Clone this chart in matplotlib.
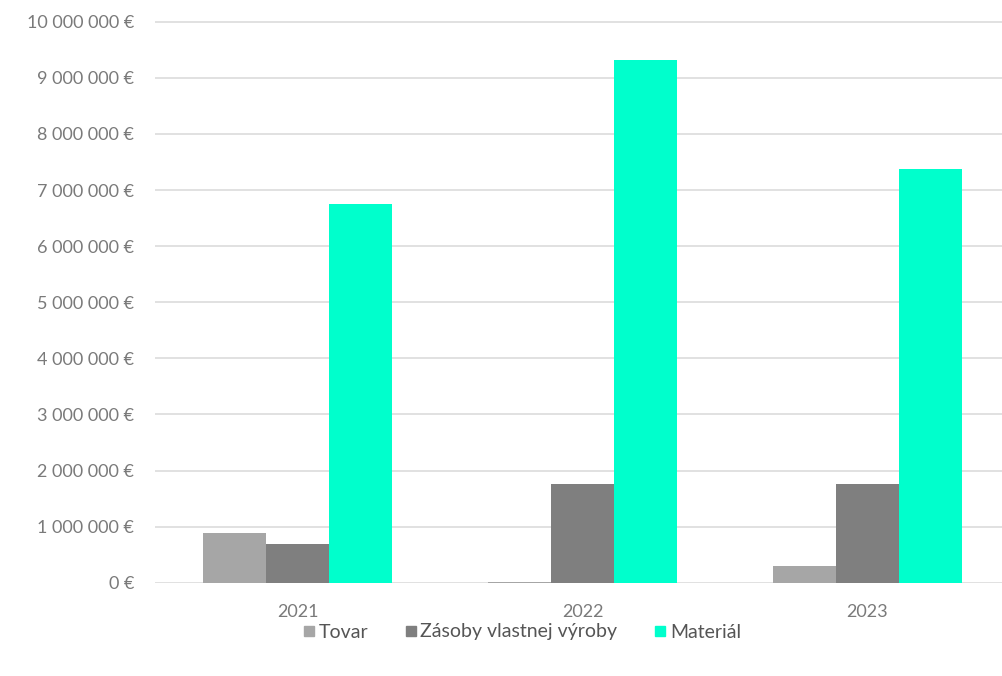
import matplotlib
matplotlib.use("Agg")
import matplotlib.pyplot as plt
from matplotlib.lines import Line2D
from matplotlib.ticker import FuncFormatter, MultipleLocator
import numpy as np

years = ["2021", "2022", "2023"]
series_names = ["Tovar", "Zásoby vlastnej výroby", "Materiál"]
tovar = [890000, 10000, 290000]
zasoby = [690000, 1760000, 1760000]
material = [6750000, 9310000, 7380000]
colors = ["#A6A6A6", "#7F7F7F", "#00FFCC"]

plt.rcParams['font.family'] = ['Lato', 'DejaVu Sans']

fig = plt.figure(figsize=(10.03, 6.76), dpi=100)
ax = fig.add_axes([155/1003, (676-582.7)/676, 1-155/1003, 561*1.02/676])

x = np.arange(len(years))
w = 0.221
for i, (vals, c) in enumerate(zip([tovar, zasoby, material], colors)):
    ax.bar(x + (i-1)*w, vals, width=w, color=c, zorder=3, linewidth=0)

ax.set_xlim(-0.5, -0.5 + 848/285)
ax.set_ylim(0, 1.02e7)
ax.yaxis.set_major_locator(MultipleLocator(1e6))

def fmt(v, pos):
    s = f"{int(round(v)):,}".replace(",", " ")
    return s + " €"
ax.yaxis.set_major_formatter(FuncFormatter(fmt))
ax.set_xticks(x)
ax.set_xticklabels(years)

ax.grid(axis='y', color='#D9D9D9', linewidth=1.1, zorder=0)
for s in ax.spines.values():
    s.set_visible(False)
ax.tick_params(axis='both', length=0, labelsize=13, labelcolor='#7A7A7A')
ax.tick_params(axis='y', pad=15)
ax.tick_params(axis='x', pad=15)

handles = [Line2D([0], [0], marker='s', linestyle='none', markersize=6.5,
                  markerfacecolor=c, markeredgecolor=c) for c in colors]
fig.legend(handles, series_names, loc='center', bbox_to_anchor=(521/1003, 1-632/676),
           ncol=3, frameon=False, handletextpad=0.1, columnspacing=1.8,
           handlelength=0.8, fontsize=14, labelcolor='#555555')

fig.savefig("out.png", dpi=100)
